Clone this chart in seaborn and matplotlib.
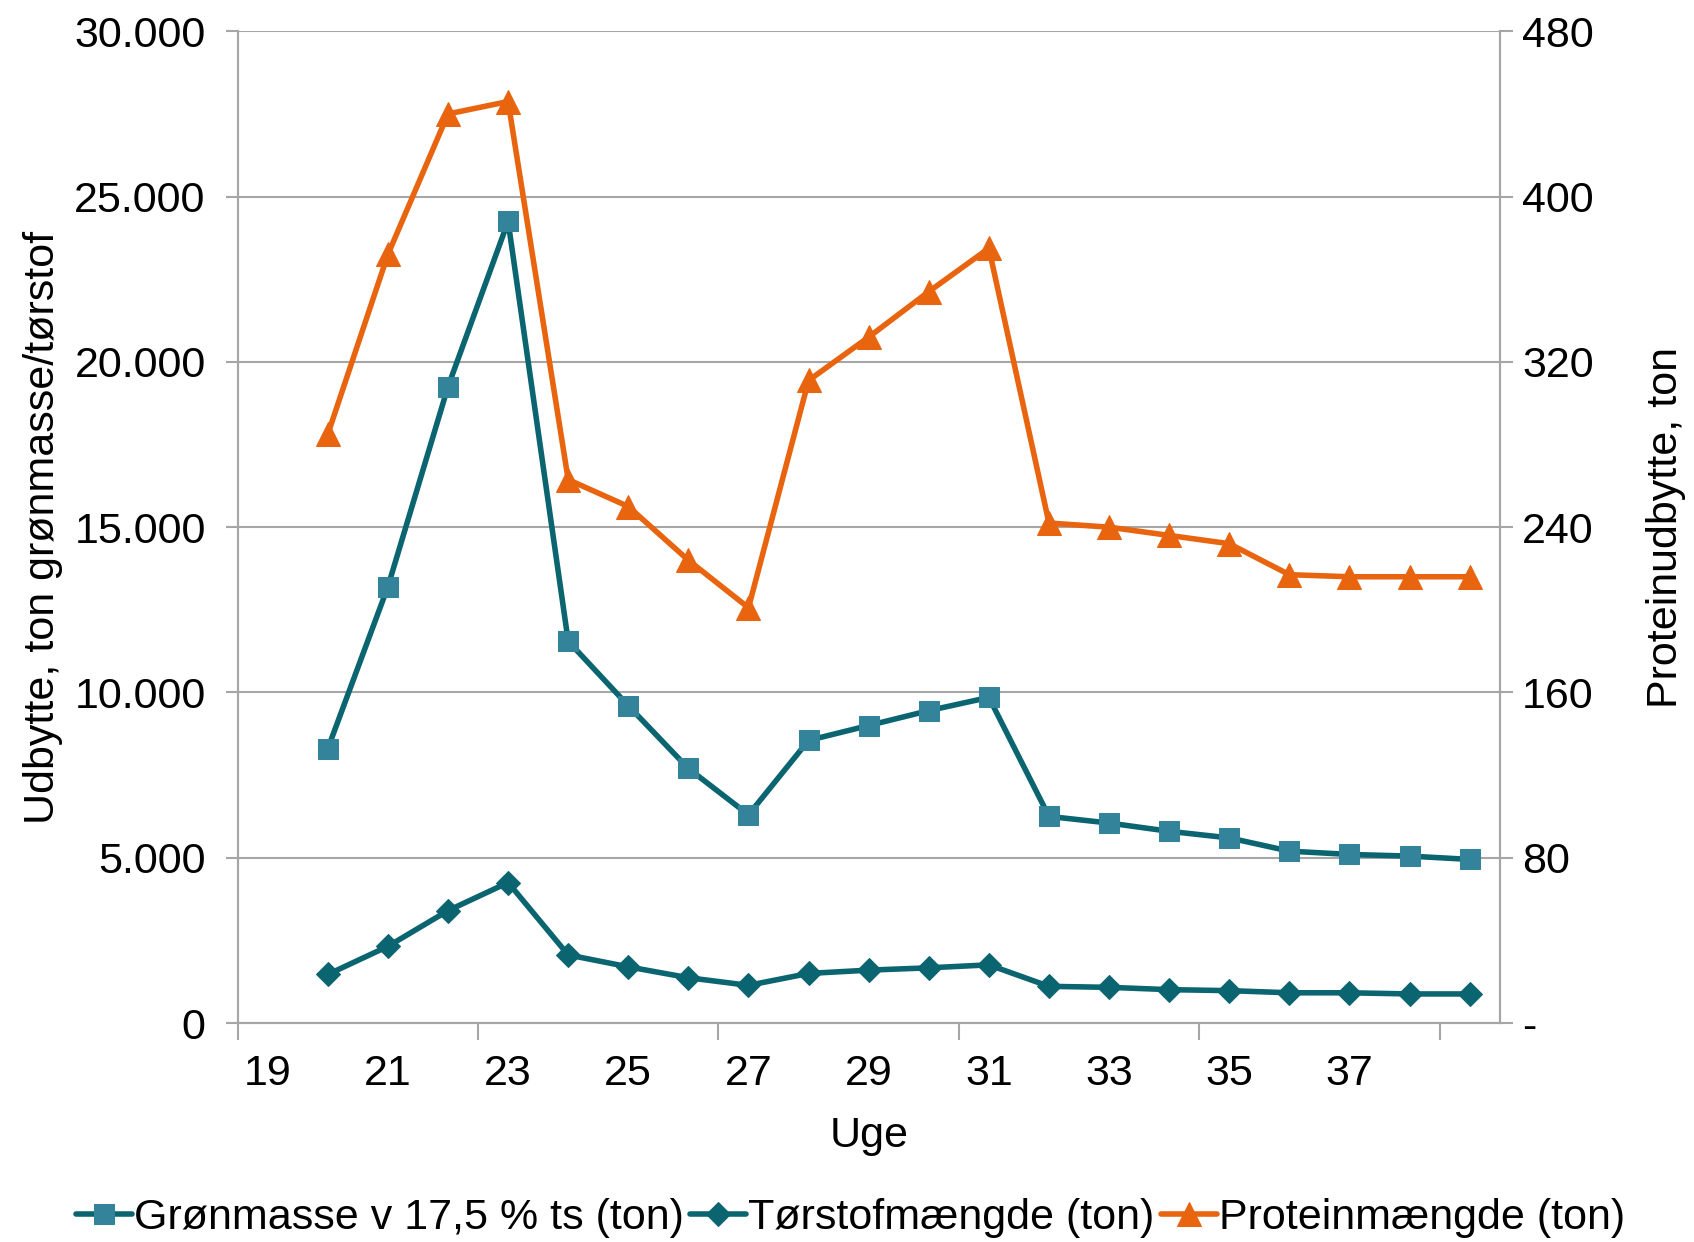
import matplotlib
matplotlib.use("Agg")
import matplotlib.pyplot as plt
import matplotlib.ticker as mticker
import seaborn as sns
import pandas as pd

# data
uge = [20, 21, 22, 23, 24, 25, 26, 27, 28, 29, 30, 31, 32, 33, 34, 35, 36, 37, 38, 39]
groenmasse = [8300, 13200, 19250, 24250, 11550, 9600, 7700, 6300, 8550, 9000,
              9450, 9850, 6250, 6050, 5800, 5600, 5200, 5100, 5050, 4950]
toerstof = [1470, 2320, 3400, 4250, 2060, 1700, 1370, 1140, 1500, 1600,
            1670, 1760, 1110, 1080, 1010, 980, 915, 915, 880, 880]
protein = [285, 372, 440, 446, 263, 250, 224, 201, 311, 332,
           354, 375, 242, 240, 236, 232, 217, 216, 216, 216]
x_labels = [19, 21, 23, 25, 27, 29, 31, 33, 35, 37]

df = pd.DataFrame({"Uge": uge, "Grønmasse": groenmasse,
                   "Tørstof": toerstof, "Protein": protein})

sns.set_style("white")
plt.rcParams['font.family'] = ['Liberation Sans', 'DejaVu Sans']
plt.rcParams['text.color'] = 'black'
plt.rcParams['axes.labelcolor'] = 'black'
plt.rcParams['xtick.labelcolor'] = 'black'
plt.rcParams['ytick.labelcolor'] = 'black'

teal_dark = "#0B6570"
teal_light = "#33839A"
orange = "#E8640F"
grid_col = "#A6A6A6"
fs = 31

fig = plt.figure(figsize=(16.94, 12.42), dpi=100)
ax = fig.add_axes([0.1403, 0.1763, 0.745, 0.7985])
ax2 = ax.twinx()

sns.lineplot(data=df, x="Uge", y="Grønmasse", ax=ax, color=teal_dark, lw=4,
             marker="s", markersize=15, markerfacecolor=teal_light,
             markeredgecolor=teal_light, label="Grønmasse v 17,5 % ts (ton)")
sns.lineplot(data=df, x="Uge", y="Tørstof", ax=ax, color=teal_dark, lw=4,
             marker="D", markersize=12, markerfacecolor=teal_dark,
             markeredgecolor=teal_dark, label="Tørstofmængde (ton)")
sns.lineplot(data=df, x="Uge", y="Protein", ax=ax2, color=orange, lw=4,
             marker="^", markersize=17, markerfacecolor=orange,
             markeredgecolor=orange, label="Proteinmængde (ton)")

ax.set_xlim(18.5, 39.5)
ax.set_ylim(0, 30000)
ax2.set_ylim(0, 480)
ax.set_yticks(range(0, 30001, 5000))
ax2.set_yticks(range(0, 481, 80))
ax.yaxis.set_major_formatter(mticker.FuncFormatter(
    lambda v, p: f"{int(v):,}".replace(",", ".")))
ax2.yaxis.set_major_formatter(mticker.FuncFormatter(
    lambda v, p: "-" if v == 0 else f"{int(v)}"))

# tick marks on category boundaries, labels every second week
ax.set_xticks([18.5, 22.5, 26.5, 30.5, 34.5, 38.5])
ax.set_xticklabels([])
ax.set_xticks(x_labels, minor=True)
ax.set_xticklabels([str(v) for v in x_labels], minor=True)
ax.tick_params(axis="x", which="major", length=12, width=1.5, color=grid_col,
               direction="out", bottom=True)
ax.tick_params(axis="x", which="minor", length=0, pad=22, labelsize=fs)
ax.tick_params(axis="y", length=9, width=1.5, color=grid_col, direction="out",
               left=True, pad=14, labelsize=fs)
ax2.tick_params(axis="y", length=9, width=1.5, color=grid_col, direction="out",
                right=True, pad=7, labelsize=fs)

ax.grid(axis="y", color=grid_col, lw=1.5)
ax.set_axisbelow(True)
for a in (ax, ax2):
    a.spines["top"].set_visible(False)
    for s in ("left", "right", "bottom"):
        a.spines[s].set_color(grid_col)
        a.spines[s].set_linewidth(1.5)

ax.set_xlabel("Uge", fontsize=fs, labelpad=16)
ax.set_ylabel("Udbytte, ton grønmasse/tørstof", fontsize=fs, labelpad=8)
ax2.set_ylabel("Proteinudbytte, ton", fontsize=fs, labelpad=38)

h1, l1 = ax.get_legend_handles_labels()
h2, l2 = ax2.get_legend_handles_labels()
ax.get_legend().remove()
ax2.get_legend().remove()
fig.legend(h1 + h2, l1 + l2, loc="center", bbox_to_anchor=(0.502, 0.019),
           ncol=3, frameon=False, fontsize=fs, handlelength=1.3,
           handletextpad=0.05, columnspacing=0.15)

fig.savefig("out.png", dpi=100)
